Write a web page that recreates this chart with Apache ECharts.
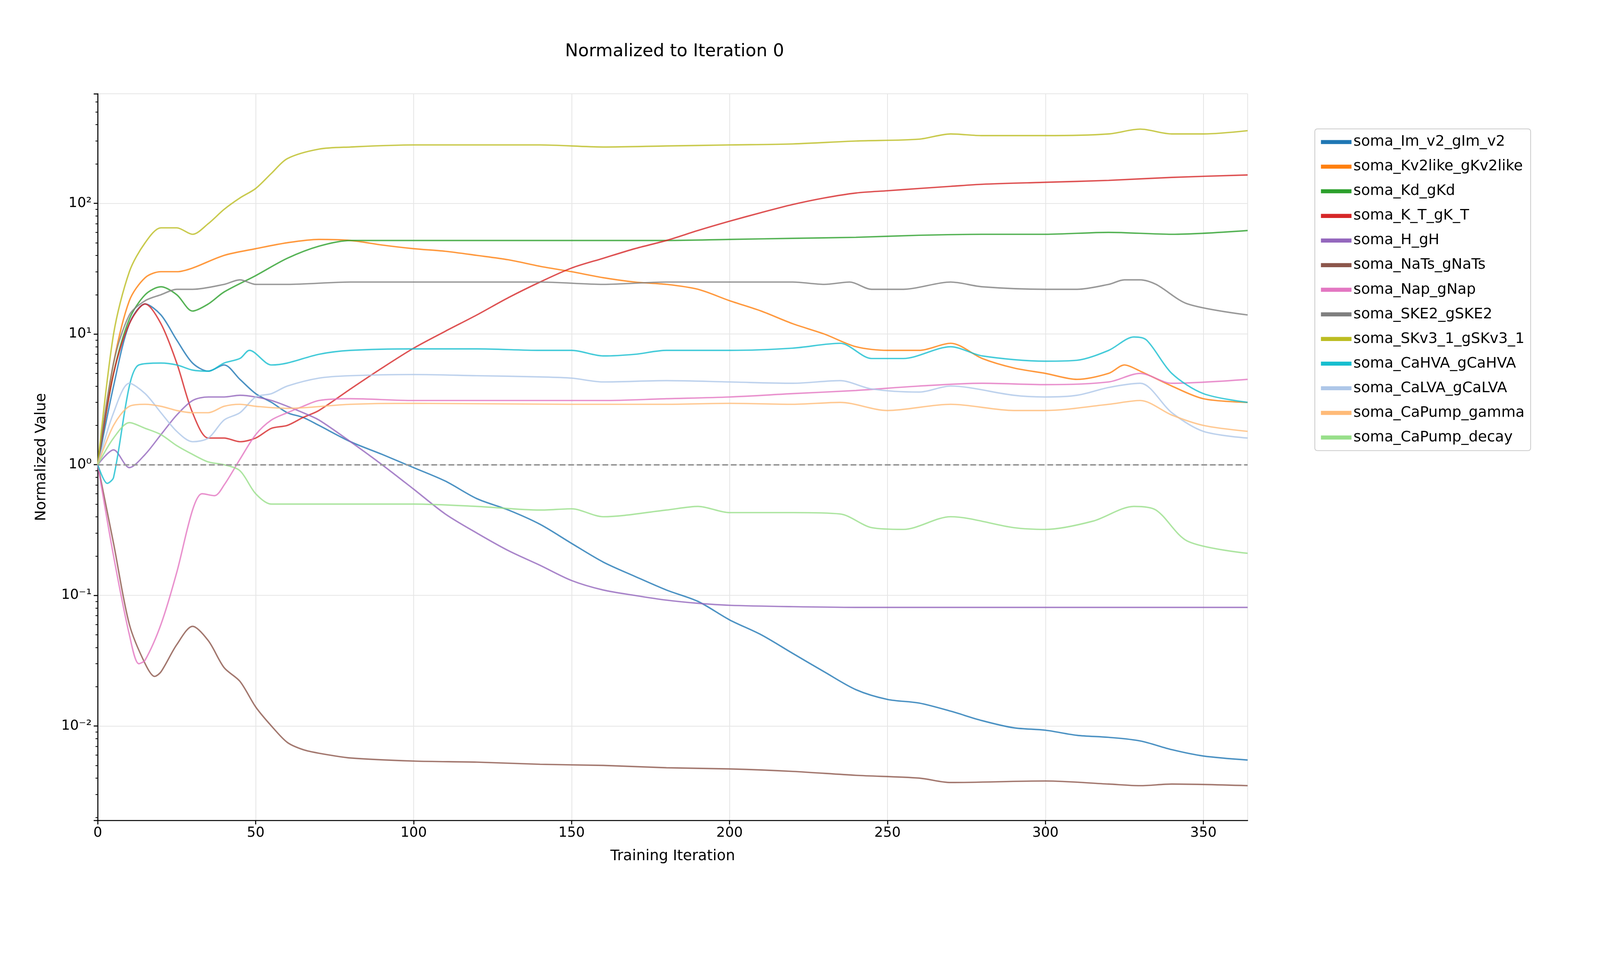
<!DOCTYPE html>
<html>
<head>
<meta charset="utf-8">
<script src="https://cdn.jsdelivr.net/npm/echarts@6/dist/echarts.min.js"></script>
<style>html,body{margin:0;padding:0;width:100%;height:100%;overflow:hidden;background:#fff}#container{width:100vw;height:100vh}</style>
</head>
<body>
<div id="container"></div>
<script>
// [iteration, normalized value]
var imV2 = [[0,1],[5,4],[10,12],[15,17],[20,14],[25,9],[30,6],[35,5.2],[40,5.8],[45,4.5],[50,3.5],[55,3],[60,2.5],[65,2.3],[70,2],[80,1.5],[90,1.2],[100,0.95],[110,0.75],[120,0.55],[130,0.45],[140,0.35],[150,0.25],[160,0.18],[170,0.14],[180,0.11],[190,0.09],[200,0.065],[210,0.05],[220,0.036],[230,0.026],[240,0.019],[250,0.016],[260,0.015],[270,0.013],[280,0.011],[290,0.0097],[300,0.0093],[310,0.0085],[320,0.0082],[330,0.0077],[340,0.0066],[350,0.0059],[364,0.0055]];
var kv2like = [[0,1],[5,6],[10,18],[15,27],[20,30],[25,30],[30,32],[40,40],[50,45],[60,50],[70,53],[80,52],[90,48],[100,45],[110,43],[120,40],[130,37],[140,33],[150,30],[160,27],[170,25],[180,24],[190,22],[200,18],[210,15],[220,12],[230,10],[240,8],[250,7.5],[260,7.5],[270,8.5],[280,6.5],[290,5.5],[300,5],[310,4.5],[320,5],[325,5.8],[330,5.2],[340,4],[350,3.2],[364,3]];
var kd = [[0,1],[5,5],[10,13],[15,20],[20,23],[25,20],[30,15],[35,17],[40,21],[50,28],[60,38],[70,47],[80,52],[90,52],[100,52],[120,52],[140,52],[160,52],[180,52],[200,53],[220,54],[240,55],[260,57],[280,58],[300,58],[320,60],[340,58],[364,62]];
var kT = [[0,1],[5,5],[10,12],[15,17],[20,12],[25,6],[30,2.5],[35,1.6],[40,1.6],[45,1.5],[50,1.6],[55,1.9],[60,2.0],[65,2.3],[70,2.6],[80,3.8],[90,5.5],[100,7.8],[110,10.5],[120,14],[130,19],[140,25],[150,32],[160,38],[170,45],[180,52],[190,62],[200,73],[210,85],[220,98],[230,110],[240,120],[250,125],[260,130],[270,135],[280,140],[300,145],[320,150],[340,158],[364,165]];
var hCur = [[0,1],[5,1.3],[10,0.95],[15,1.2],[20,1.7],[25,2.4],[30,3.1],[35,3.3],[40,3.3],[45,3.4],[50,3.3],[55,3.1],[60,2.8],[65,2.5],[70,2.2],[80,1.5],[90,1.0],[100,0.65],[110,0.42],[120,0.3],[130,0.22],[140,0.17],[150,0.13],[160,0.11],[170,0.1],[180,0.092],[190,0.087],[200,0.084],[220,0.082],[240,0.081],[364,0.081]];
var naTs = [[0,1],[5,0.25],[10,0.06],[15,0.03],[18,0.024],[20,0.026],[25,0.042],[30,0.058],[35,0.045],[40,0.028],[45,0.022],[50,0.014],[55,0.01],[60,0.0075],[65,0.0066],[70,0.0062],[80,0.0057],[100,0.0054],[120,0.0053],[140,0.0051],[160,0.005],[180,0.0048],[200,0.0047],[220,0.0045],[240,0.0042],[260,0.004],[270,0.0037],[300,0.0038],[320,0.0036],[330,0.0035],[340,0.0036],[364,0.0035]];
var nap = [[0,1],[5,0.2],[10,0.05],[13,0.03],[15,0.032],[20,0.06],[25,0.15],[30,0.45],[33,0.6],[37,0.58],[40,0.7],[45,1.1],[50,1.7],[55,2.2],[60,2.5],[65,2.8],[70,3.1],[80,3.2],[100,3.1],[120,3.1],[140,3.1],[160,3.1],[180,3.2],[200,3.3],[220,3.5],[240,3.7],[260,4.0],[280,4.2],[300,4.1],[320,4.3],[330,5],[340,4.2],[364,4.5]];
var ske2 = [[0,1],[5,6],[10,14],[15,18],[20,20],[25,22],[30,22],[40,24],[45,26],[50,24],[60,24],[80,25],[100,25],[120,25],[140,25],[160,24],[180,25],[200,25],[220,25],[230,24],[238,25],[245,22],[255,22],[270,25],[280,23],[300,22],[310,22],[320,24],[325,26],[330,26],[335,24],[345,17],[364,14]];
var skv3 = [[0,1],[5,10],[10,30],[15,50],[20,65],[25,65],[30,58],[35,70],[40,90],[45,110],[50,130],[55,170],[60,220],[70,260],[80,270],[100,280],[120,280],[140,280],[160,270],[180,275],[200,280],[220,285],[240,300],[260,310],[270,340],[280,330],[300,330],[320,340],[330,370],[340,340],[350,340],[364,360]];
var caHVA = [[0,1],[3,0.72],[5,0.8],[10,4],[13,5.8],[20,6],[25,5.8],[30,5.3],[35,5.2],[40,6],[45,6.5],[48,7.5],[55,5.8],[60,6],[70,7],[80,7.5],[100,7.7],[120,7.7],[140,7.5],[150,7.5],[160,6.8],[170,7],[180,7.5],[200,7.5],[220,7.8],[235,8.5],[245,6.5],[255,6.5],[270,8],[280,6.8],[300,6.2],[310,6.3],[320,7.5],[328,9.5],[332,9],[340,5],[350,3.5],[364,3]];
var caLVA = [[0,1],[5,2.5],[10,4.2],[15,3.5],[20,2.5],[25,1.8],[30,1.5],[35,1.6],[40,2.2],[45,2.5],[50,3.3],[55,3.5],[60,4],[70,4.6],[80,4.8],[100,4.9],[120,4.8],[140,4.7],[150,4.6],[160,4.3],[180,4.4],[200,4.3],[220,4.2],[235,4.4],[245,3.8],[260,3.6],[270,4],[290,3.4],[300,3.3],[310,3.4],[320,3.9],[330,4.2],[340,2.5],[350,1.8],[364,1.6]];
var pumpGamma = [[0,1],[5,2],[10,2.8],[15,2.9],[20,2.8],[25,2.6],[30,2.5],[35,2.5],[40,2.8],[45,2.9],[50,2.8],[60,2.7],[80,2.9],[100,2.95],[150,2.9],[180,2.9],[200,2.95],[220,2.9],[235,3],[250,2.6],[270,2.9],[290,2.6],[300,2.6],[320,2.9],[330,3.1],[340,2.4],[350,2],[364,1.8]];
var pumpDecay = [[0,1],[5,1.6],[10,2.1],[15,1.9],[20,1.7],[25,1.4],[30,1.2],[35,1.05],[40,1.0],[45,0.9],[50,0.6],[55,0.5],[60,0.5],[80,0.5],[100,0.5],[120,0.48],[140,0.45],[150,0.46],[160,0.4],[180,0.45],[190,0.48],[200,0.43],[220,0.43],[235,0.42],[245,0.33],[255,0.32],[270,0.4],[290,0.33],[300,0.32],[315,0.37],[328,0.48],[335,0.45],[345,0.26],[364,0.21]];

var names = ['soma_Im_v2_gIm_v2','soma_Kv2like_gKv2like','soma_Kd_gKd','soma_K_T_gK_T','soma_H_gH','soma_NaTs_gNaTs','soma_Nap_gNap','soma_SKE2_gSKE2','soma_SKv3_1_gSKv3_1','soma_CaHVA_gCaHVA','soma_CaLVA_gCaLVA','soma_CaPump_gamma','soma_CaPump_decay'];
var datas = [imV2,kv2like,kd,kT,hCur,naTs,nap,ske2,skv3,caHVA,caLVA,pumpGamma,pumpDecay];
var colors = ['#1f77b4','#ff7f0e','#2ca02c','#d62728','#9467bd','#8c564b','#e377c2','#7f7f7f','#bcbd22','#17becf','#aec7e8','#ffbb78','#98df8a'];

var dom = document.getElementById('container');
var W = dom.clientWidth, H = dom.clientHeight;
var sx = W / 7855, sy = H / 2478, s = Math.min(sx, sy);

var series = [];
for (var i = 0; i < names.length; i++) {
    series.push({
        name: names[i],
        type: 'line',
        data: datas[i],
        smooth: 0.3,
        showSymbol: false,
        color: colors[i],
        lineStyle: {width: 7 * s, opacity: 0.8},
        z: 3
    });
}
series[0].markLine = {
    silent: true, symbol: 'none', label: {show: false},
    lineStyle: {color: '#999999', type: [28 * s, 14 * s], width: 8 * s, opacity: 1},
    data: [{yAxis: 1}]
};

var sup = {'-':'\u207B','0':'\u2070','1':'\u00B9','2':'\u00B2'};
function powLabel(v) {
    var e = Math.round(Math.log10(v));
    if (Math.abs(Math.log10(v) - e) > 0.01) return '';
    var t = String(e).split('').map(function (c) { return sup[c]; }).join('');
    return '10' + t;
}

var myChart = echarts.init(dom);
var option = {
    backgroundColor: '#fff',
    animation: false,
    textStyle: {fontFamily: 'DejaVu Sans'},
    title: {
        text: 'Normalized to Iteration 0', left: 3302 * sx, top: 105 * sy, textAlign: 'center',
        textStyle: {fontSize: 86 * s, fontWeight: 'normal', color: '#000'}
    },
    grid: {left: 480 * sx, right: 1730 * sx, top: 240 * sy, bottom: 378 * sy},
    legend: {
        orient: 'vertical', left: 6455 * sx, top: 330 * sy, itemGap: 48 * s, itemWidth: 150 * s, itemHeight: 20 * s,
        padding: [28 * s, 30 * s, 28 * s, 30 * s], borderColor: '#cccccc', borderWidth: 4 * s, borderRadius: 12 * s,
        textStyle: {fontSize: 72 * s, color: '#000'},
        icon: 'rect',
        data: names
    },
    xAxis: {
        type: 'value', min: 0, max: 364, interval: 50,
        name: 'Training Iteration', nameLocation: 'middle', nameGap: 140 * s,
        nameTextStyle: {fontSize: 72 * s, color: '#000'},
        axisLine: {lineStyle: {color: '#000', width: 5 * s}},
        axisTick: {show: true, length: 20 * s, lineStyle: {color: '#000', width: 5 * s}},
        axisLabel: {fontSize: 68 * s, color: '#000', margin: 30 * s, showMaxLabel: false},
        splitLine: {show: true, lineStyle: {color: '#e6e6e6', width: 4 * s}}
    },
    yAxis: {
        type: 'log', logBase: 10, min: 0.0019, max: 690,
        name: 'Normalized Value', nameLocation: 'middle', nameGap: 240 * s,
        nameTextStyle: {fontSize: 72 * s, color: '#000'},
        axisLine: {show: true, lineStyle: {color: '#000', width: 5 * s}},
        axisTick: {show: true, length: 20 * s, lineStyle: {color: '#000', width: 5 * s}},
        minorTick: {show: true, splitNumber: 9, length: 11 * s, lineStyle: {color: '#000', width: 4 * s}},
        axisLabel: {fontSize: 68 * s, color: '#000', margin: 30 * s, formatter: powLabel, showMinLabel: false, showMaxLabel: false},
        splitLine: {show: true, lineStyle: {color: '#e6e6e6', width: 4 * s}}
    },
    series: series
};
myChart.setOption(option);
</script>
</body>
</html>
